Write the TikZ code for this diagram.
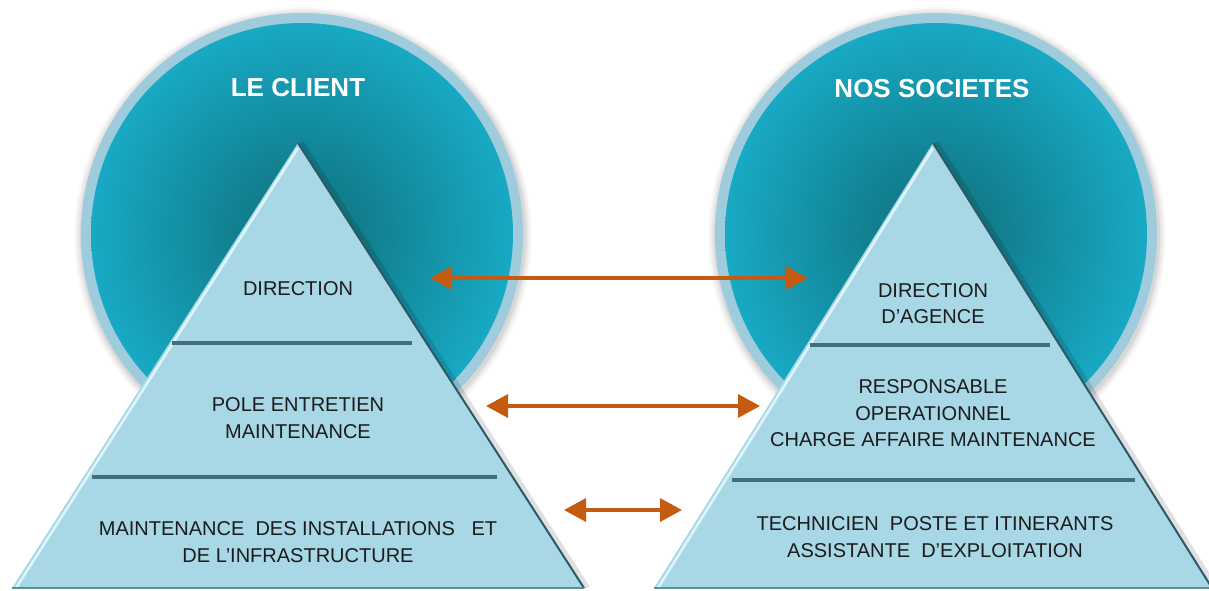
\documentclass[tikz,border=0pt]{standalone}
\usepackage{fontspec}
\setmainfont{Liberation Sans}
\usetikzlibrary{arrows.meta}
\definecolor{ring}{HTML}{9FCCDC}
\definecolor{tealout}{HTML}{18A9C4}
\definecolor{tealdark}{HTML}{117E8D}
\definecolor{tri}{HTML}{A8D7E6}
\definecolor{trihi}{HTML}{DDF5FB}
\definecolor{trish}{HTML}{2D5866}
\definecolor{tribase}{HTML}{5E8C99}
\definecolor{divider}{HTML}{3F6E7C}
\definecolor{arrowc}{HTML}{C55A11}
\definecolor{txt}{HTML}{1C1C1C}
\pgfdeclareradialshading{tealball}{\pgfpoint{0bp}{0bp}}{color(0bp)=(tealdark); color(7bp)=(tealdark); color(25bp)=(tealout); color(50bp)=(tealout)}
\begin{document}
\begin{tikzpicture}[x=1pt,y=-1pt,
  ringdisc/.style={fill=ring},
  tealdisc/.style={shading=tealball},
  trifill/.style={fill=tri},
  trihilite/.style={draw=trihi, line width=2.5pt},
  trishade/.style={draw=trish, line width=2pt},
  trishadow/.style={draw=black, opacity=0.12, line width=6pt},
  tribottom/.style={draw=tribase, line width=2.5pt},
  divline/.style={draw=divider, line width=3.5pt},
  title/.style={text=white, font=\fontsize{26}{30}\selectfont\bfseries, inner sep=0pt},
  level/.style={text=txt, font=\fontsize{20}{26.5}\selectfont, align=center, inner sep=0pt},
  arr/.style={draw=arrowc, line width=3.3pt, {Triangle[length=22pt,width=23pt]}-{Triangle[length=22pt,width=23pt]}}
]
\useasboundingbox[fill=white] (0,0) rectangle (1209,590);

% circle centres
\coordinate (Lc) at (302,234);
\coordinate (Rc) at (936,234);

% soft shadows around circles
\foreach \c in {Lc,Rc}{
  \foreach \r/\o in {229pt/0.025, 227pt/0.035, 225pt/0.045, 223pt/0.06}{
    \fill[black, opacity=\o] ([shift={(1,2)}]\c) circle (\r);
  }
  \fill[ringdisc] (\c) circle (221pt);
  \shade[tealdisc] (\c) circle (211pt);
}

% left triangle
\coordinate (La) at (298,143);
\coordinate (Lbl) at (12,588);
\coordinate (Lbr) at (584,588);
\draw[trishadow] ([xshift=3pt]La) -- ([xshift=3pt]Lbr);
\fill[trifill] (La) -- (Lbl) -- (Lbr) -- cycle;
\draw[trihilite] ([shift={(0,5)}]La) -- ([xshift=4pt]Lbl);
\draw[trishade] (La) -- (Lbr);
\draw[tribottom] (Lbl) -- (Lbr);
\coordinate (Ld1a) at (172,343); \coordinate (Ld1b) at (412,343);
\coordinate (Ld2a) at (92,477);  \coordinate (Ld2b) at (497,477);
\draw[divline] (Ld1a) -- (Ld1b);
\draw[divline] (Ld2a) -- (Ld2b);

% right triangle
\coordinate (Ra) at (933,143);
\coordinate (Rbl) at (654,588);
\coordinate (Rbr) at (1212,588);
\draw[trishadow] ([xshift=3pt]Ra) -- ([xshift=3pt]Rbr);
\fill[trifill] (Ra) -- (Rbl) -- (Rbr) -- cycle;
\draw[trihilite] ([shift={(0,5)}]Ra) -- ([xshift=4pt]Rbl);
\draw[trishade] (Ra) -- (Rbr);
\draw[tribottom] (Rbl) -- (Rbr);
\coordinate (Rd1a) at (810,345); \coordinate (Rd1b) at (1050,345);
\coordinate (Rd2a) at (732,480); \coordinate (Rd2b) at (1135,480);
\draw[divline] (Rd1a) -- (Rd1b);
\draw[divline] (Rd2a) -- (Rd2b);

% titles
\node[title] (tL) at (298,88) {LE CLIENT};
\node[title] (tR) at (932,89) {NOS SOCIETES};

% left levels
\node[level] (L1) at (298,288.5) {DIRECTION};
\node[level] (L2) at (298,418) {POLE ENTRETIEN\\MAINTENANCE};
\node[level] (L3) at (298,542) {MAINTENANCE\ \ DES INSTALLATIONS\ \ \ ET\\DE L’INFRASTRUCTURE};

% right levels
\node[level] (R1) at (933,303.5) {DIRECTION\\D’AGENCE};
\node[level] (R2) at (933,413.5) {RESPONSABLE\\OPERATIONNEL\\CHARGE\ AFFAIRE\ MAINTENANCE};
\node[level] (R3) at (935,537) {TECHNICIEN\ \ POSTE ET ITINERANTS\\ASSISTANTE\ \ D’EXPLOITATION};

% arrows
\coordinate (a1l) at (430,278); \coordinate (a1r) at (808,278);
\coordinate (a2l) at (486,406); \coordinate (a2r) at (760,406);
\coordinate (a3l) at (564,510); \coordinate (a3r) at (682,510);
\draw[arr] (a1l) -- (a1r);
\draw[arr] (a2l) -- (a2r);
\draw[arr] (a3l) -- (a3r);
\end{tikzpicture}
\end{document}
